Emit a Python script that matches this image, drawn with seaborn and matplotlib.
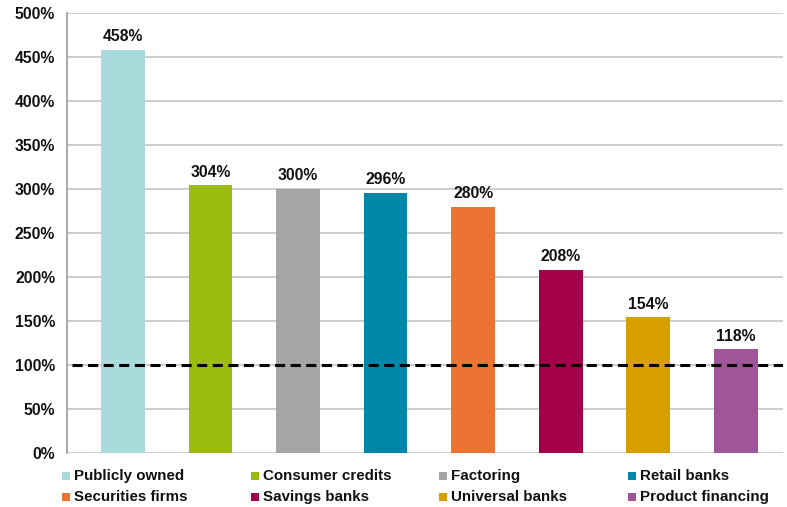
import matplotlib
matplotlib.use("Agg")
import matplotlib.pyplot as plt
from matplotlib.patches import Rectangle
import seaborn as sns
import pandas as pd

categories = ["Publicly owned", "Consumer credits", "Factoring", "Retail banks",
              "Securities firms", "Savings banks", "Universal banks", "Product financing"]
values = [458, 304, 300, 296, 280, 208, 154, 118]
colors = ["#A9DADC", "#9BBB0E", "#A5A5A5", "#0086A8",
          "#EC7432", "#A5004A", "#D7A000", "#A0559A"]
yticks = [0, 50, 100, 150, 200, 250, 300, 350, 400, 450, 500]
threshold = 100

sns.set_theme(style="white")
plt.rcParams["font.family"] = ["Liberation Sans", "DejaVu Sans"]
plt.rcParams["font.weight"] = "bold"

df = pd.DataFrame({"category": categories, "value": values})

W, H = 787, 507
fig = plt.figure(figsize=(W / 100, H / 100), dpi=100)
ax = fig.add_axes([67 / W, 1 - 453 / H, 716 / W, 440 / H])

sns.barplot(data=df, x="category", y="value", hue="category", palette=colors,
            order=categories, hue_order=categories, dodge=False, width=0.5,
            saturation=1, linewidth=0, legend=False, ax=ax, zorder=3)

for cont in ax.containers:
    ax.bar_label(cont, labels=[f"{v:.0f}%" for v in cont.datavalues],
                 padding=4, fontsize=11.3, fontweight="bold", color="#111111")

ax.set_ylim(0, 500)
ax.set_xlim(-0.64, 7.54)
ax.set_yticks(yticks)
ax.set_yticklabels([f"{t}%" for t in yticks], fontsize=11.3, fontweight="bold", color="#111111")
ax.tick_params(axis="y", length=0, pad=8.5)
ax.set_xticks([])
ax.set_xlabel("")
ax.set_ylabel("")
ax.grid(axis="y", color="#BEBEBE", linewidth=1.1, zorder=0)
ax.set_axisbelow(True)
for side in ["top", "right", "bottom"]:
    ax.spines[side].set_visible(False)
ax.spines["left"].set_color("#9A9A9A")
ax.spines["left"].set_linewidth(1.2)

ax.axhline(threshold, xmin=0.007, xmax=1.0, color="black", linewidth=2.2,
           linestyle=(0, (3.3, 1.8)), zorder=4)

# Legend: 4 columns x 2 rows, drawn below the axes
col_x = [62, 251, 439, 628]
row_y = [476, 497]
for i, (lab, col) in enumerate(zip(categories, colors)):
    c, r = i % 4, i // 4
    x, y = col_x[c], row_y[r]
    fig.patches.append(Rectangle((x / W, 1 - (y + 4) / H), 8 / W, 8 / H,
                                 transform=fig.transFigure, facecolor=col,
                                 edgecolor="none"))
    fig.text((x + 12) / W, 1 - y / H, lab, fontsize=10.9, fontweight="bold",
             color="#111111", va="center", ha="left")

fig.savefig("out.png", dpi=100)
